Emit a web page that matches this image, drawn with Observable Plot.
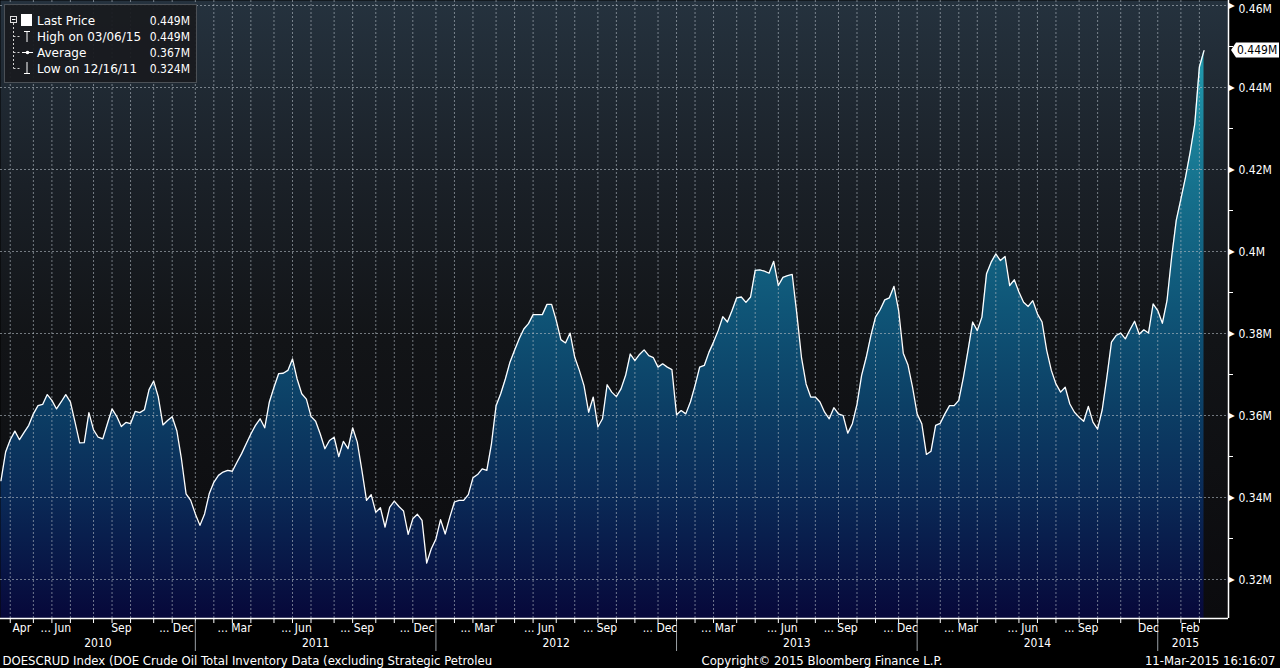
<!DOCTYPE html>
<html>
<head>
<meta charset="utf-8">
<script src="https://cdn.jsdelivr.net/npm/d3@7"></script>
<script src="https://cdn.jsdelivr.net/npm/@observablehq/plot@0.6"></script>
<style>
html, body { margin: 0; padding: 0; background: #000; }
#wrap { position: relative; width: 1280px; height: 668px; overflow: hidden; background: #000; }
#wrap svg.legend { position: absolute; left: 0; top: 0; }
</style>
</head>
<body>
<div id="wrap"></div>
<script>
// ---------------- data ----------------
const lastWeek = "2015-03-06";   // weekly observations, last one on 03/06/15
const values = [
  0.3441, 0.3511, 0.3541, 0.3562, 0.3541, 0.3559, 0.3576, 0.3604, 0.3624, 0.3627,
  0.3651, 0.3637, 0.3616, 0.3633, 0.3651, 0.3633, 0.3584, 0.3533, 0.3534, 0.3607,
  0.3565, 0.3547, 0.3543, 0.3580, 0.3616, 0.3598, 0.3573, 0.3583, 0.3580, 0.3610,
  0.3607, 0.3614, 0.3663, 0.3684, 0.3645, 0.3577, 0.3588, 0.3597, 0.3563, 0.3494,
  0.3409, 0.3393, 0.3360, 0.3332, 0.3360, 0.3409, 0.3437, 0.3454, 0.3462, 0.3466,
  0.3464, 0.3486, 0.3507, 0.3531, 0.3555, 0.3576, 0.3592, 0.3570, 0.3633, 0.3669,
  0.3702, 0.3703, 0.3710, 0.3738, 0.3689, 0.3653, 0.3640, 0.3598, 0.3586, 0.3555,
  0.3519, 0.3539, 0.3547, 0.3500, 0.3537, 0.3519, 0.3570, 0.3535, 0.3466, 0.3393,
  0.3407, 0.3364, 0.3375, 0.3328, 0.3376, 0.3391, 0.3378, 0.3367, 0.3310, 0.3348,
  0.3359, 0.3344, 0.3240, 0.3275, 0.3299, 0.3346, 0.3311, 0.3352, 0.3389, 0.3393,
  0.3393, 0.3407, 0.3448, 0.3456, 0.3470, 0.3466, 0.3531, 0.3624, 0.3653, 0.3689,
  0.3730, 0.3759, 0.3787, 0.3811, 0.3824, 0.3846, 0.3846, 0.3846, 0.3871, 0.3871,
  0.3832, 0.3785, 0.3777, 0.3801, 0.3742, 0.3710, 0.3673, 0.3608, 0.3645, 0.3572,
  0.3592, 0.3675, 0.3657, 0.3646, 0.3665, 0.3698, 0.3750, 0.3734, 0.3749, 0.3760,
  0.3746, 0.3741, 0.3718, 0.3726, 0.3718, 0.3712, 0.3602, 0.3612, 0.3604, 0.3633,
  0.3673, 0.3718, 0.3722, 0.3754, 0.3779, 0.3807, 0.3841, 0.3828, 0.3856, 0.3887,
  0.3889, 0.3876, 0.3889, 0.3954, 0.3955, 0.3952, 0.3947, 0.3976, 0.3917, 0.3937,
  0.3941, 0.3944, 0.3848, 0.3742, 0.3677, 0.3645, 0.3645, 0.3633, 0.3608, 0.3592,
  0.3619, 0.3604, 0.3600, 0.3557, 0.3580, 0.3627, 0.3698, 0.3742, 0.3795, 0.3840,
  0.3858, 0.3882, 0.3887, 0.3915, 0.3856, 0.3752, 0.3724, 0.3669, 0.3604, 0.3580,
  0.3505, 0.3513, 0.3576, 0.3581, 0.3604, 0.3624, 0.3624, 0.3637, 0.3693, 0.3759,
  0.3828, 0.3807, 0.3840, 0.3946, 0.3974, 0.3994, 0.3978, 0.3988, 0.3917, 0.3931,
  0.3901, 0.3876, 0.3866, 0.3880, 0.3848, 0.3828, 0.3759, 0.3710, 0.3677, 0.3657,
  0.3669, 0.3628, 0.3608, 0.3596, 0.3586, 0.3622, 0.3584, 0.3567, 0.3614, 0.3693,
  0.3779, 0.3795, 0.3801, 0.3787, 0.3809, 0.3830, 0.3798, 0.3809, 0.3801, 0.3872,
  0.3856, 0.3825, 0.3880, 0.3986, 0.4076, 0.4128, 0.4181, 0.4242, 0.4311, 0.4450,
  0.4490
];
const yTicks = [0.32, 0.34, 0.36, 0.38, 0.40, 0.42, 0.44, 0.46];
const yMinorTicks = [0.33, 0.35, 0.37, 0.39, 0.41, 0.43, 0.45];
const monthTicks = ["2010-04","2010-06","2010-09","2010-12",
                    "2011-03","2011-06","2011-09","2011-12",
                    "2012-03","2012-06","2012-09","2012-12",
                    "2013-03","2013-06","2013-09","2013-12",
                    "2014-03","2014-06","2014-09","2014-12",
                    "2015-02"];
const monthNames = ["Apr","Jun","Sep","Dec","Mar","Jun","Sep","Dec","Mar","Jun","Sep","Dec",
                    "Mar","Jun","Sep","Dec","Mar","Jun","Sep","Dec","Feb"];
const monthEllipsis = [false,true,false,true, true,true,true,true, true,true,true,true,
                       true,true,true,true, true,true,true,false, false];
const years = [2010, 2011, 2012, 2013, 2014, 2015];
const legendLabels = ["Last Price", "High on 03/06/15", "Average", "Low on 12/16/11"];
const legendValues = ["0.449M", "0.449M", "0.367M", "0.324M"];
const footerLeft = "DOESCRUD Index (DOE Crude Oil Total Inventory Data (excluding Strategic Petroleu";
const footerMid = "Copyright\u00A9 2015 Bloomberg Finance L.P.";
const footerRight = "11-Mar-2015 16:16:07";

// ---------------- derived ----------------
const DAY = 864e5;
const endDate = new Date(lastWeek + "T00:00:00Z");
const data = values.map((v, i) => ({date: new Date(+endDate - (values.length - 1 - i) * 7 * DAY), value: v}));

const W = 1280, H = 668, MR = 52, MB = 50;
const PW = W - MR, PH = H - MB;
const xStartDate = new Date(Date.UTC(2010, 2, 11, 6));
const xEndDate = new Date(Date.UTC(2015, 3, 12, 1));
const yMin = 0.310488, yMax = 0.46122;
const msPerPx = (xEndDate - xStartDate) / PW;
const unitPerPx = (yMax - yMin) / PH;
const pxX = p => new Date(+xStartDate + p * msPerPx);
const belowY = p => yMin - p * unitPerPx;

// month boundaries: last observation before each new month
const monthKey = d => d.getUTCFullYear() + "-" + String(d.getUTCMonth() + 1).padStart(2, "0");
const gridDates = [];
const gridByMonth = {};
for (let i = 0; i < data.length - 1; i++) {
  if (data[i].date.getUTCMonth() !== data[i + 1].date.getUTCMonth()) {
    gridDates.push(data[i].date);
    gridByMonth[monthKey(data[i + 1].date)] = data[i].date;
  }
}
const yearSeps = years.slice(1).map(y => gridByMonth[y + "-01"]);
const monthLabelData = monthTicks.map((m, i) => {
  const [yy, mm] = m.split("-").map(Number);
  const next = monthKey(new Date(Date.UTC(yy, mm, 1)));
  const a = gridByMonth[m], b = gridByMonth[next];
  return {date: new Date((+a + +b) / 2), name: monthNames[i], ell: monthEllipsis[i]};
});
const yearLabelData = years.map(y => {
  const a = gridByMonth[y + "-01"] || xStartDate;
  const b = gridByMonth[(y + 1) + "-01"] || new Date(+endDate + 14 * DAY);
  return {date: new Date((+a + +b) / 2), year: String(y)};
});
const fmtM = d => (+d.toFixed(2)) + "M";
const topTick = yTicks[yTicks.length - 1];

const CF = "'DejaVu Sans Condensed', 'DejaVu Sans', sans-serif";
const RF = "'DejaVu Sans', sans-serif";
const gridStyle = {stroke: "#b4bcc4", strokeOpacity: 0.6, strokeDasharray: "2,2", strokeWidth: 1};

const chart = Plot.plot({
  width: W, height: H,
  marginLeft: 0, marginRight: MR, marginTop: 0, marginBottom: MB,
  x: {type: "utc", domain: [xStartDate, xEndDate], axis: null},
  y: {domain: [yMin, yMax], axis: null},
  style: {background: "#000", color: "#fff", overflow: "visible", fontFamily: CF, fontSize: "12px"},
  marks: [
    Plot.frame({fill: "url(#bgGrad)", stroke: "none"}),
    Plot.areaY(data, {x: "date", y1: () => yMin, y2: "value", fill: "url(#fillGrad)"}),
    Plot.ruleY(yTicks, {y: d => d, ...gridStyle}),
    Plot.ruleX(gridDates, {x: d => d, ...gridStyle}),
    Plot.lineY(data, {x: "date", y: "value", stroke: "#ffffff", strokeWidth: 1.3}),
    // axis lines
    Plot.ruleX([xEndDate], {x: d => d, stroke: "#fff", strokeWidth: 1.5}),
    Plot.ruleY([yMin], {y: d => d, stroke: "#fff", strokeWidth: 1.5}),
    // right axis ticks
    Plot.ruleY(yMinorTicks, {y: d => d, x1: () => xEndDate, x2: () => pxX(PW + 5), stroke: "#fff"}),
    Plot.text(yTicks, {x: () => xEndDate, y: d => d, text: () => "\u25B6", fill: "#fff", fontSize: 8, textAnchor: "start", dx: 0, fontFamily: RF}),
    Plot.text(yTicks.filter(d => d !== topTick), {x: () => xEndDate, y: d => d, text: fmtM, fill: "#fff", fontSize: 12, textAnchor: "start", dx: 10, dy: 1, fontFamily: CF}),
    Plot.text([topTick], {x: () => xEndDate, y: d => d, text: fmtM, fill: "#fff", fontSize: 12, textAnchor: "start", dx: 10, dy: 4, fontFamily: CF}),
    // bottom axis ticks
    Plot.ruleX(gridDates, {x: d => d, y1: () => yMin, y2: () => belowY(5), stroke: "#fff"}),
    Plot.ruleX(yearSeps, {x: d => d, y1: () => belowY(3), y2: () => belowY(33), stroke: "#9aa0a6"}),
    Plot.text(monthLabelData.filter(d => !d.ell), {x: "date", y: () => belowY(10), text: "name", fill: "#fff", fontSize: 12, textAnchor: "middle", fontFamily: CF}),
    Plot.text(monthLabelData.filter(d => d.ell), {x: "date", y: () => belowY(10), text: d => "... " + d.name, fill: "#fff", fontSize: 12, textAnchor: "end", dx: 10, fontFamily: CF}),
    Plot.text(yearLabelData, {x: "date", y: () => belowY(25), text: "year", fill: "#fff", fontSize: 12, textAnchor: "middle", fontFamily: CF}),
    // footer
    Plot.text([footerLeft], {x: () => xStartDate, y: () => belowY(43), text: d => d, fill: "#fff", fontSize: 11.7, textAnchor: "start", dx: 2, fontFamily: RF}),
    Plot.text([footerMid], {x: () => pxX(701), y: () => belowY(43), text: d => d, fill: "#fff", fontSize: 11.7, textAnchor: "start", fontFamily: RF}),
    Plot.text([footerRight], {x: () => xEndDate, y: () => belowY(43), text: d => d, fill: "#fff", fontSize: 11.7, textAnchor: "end", dx: 47, fontFamily: RF})
  ]
});

// gradients
const NS = "http://www.w3.org/2000/svg";
function grad(id, stops) {
  const g = document.createElementNS(NS, "linearGradient");
  g.setAttribute("id", id);
  g.setAttribute("gradientUnits", "userSpaceOnUse");
  g.setAttribute("x1", 0); g.setAttribute("x2", 0);
  g.setAttribute("y1", 0); g.setAttribute("y2", PH);
  for (const [o, c] of stops) {
    const s = document.createElementNS(NS, "stop");
    s.setAttribute("offset", o); s.setAttribute("stop-color", c);
    g.appendChild(s);
  }
  return g;
}
const defs = document.createElementNS(NS, "defs");
defs.appendChild(grad("bgGrad", [[0, "#25323e"], [0.3, "#1a2027"], [0.55, "#121417"], [1, "#0b0b0e"]]));
defs.appendChild(grad("fillGrad", [[0, "#2aa8b8"], [0.12, "#2095aa"], [0.3, "#16718d"], [0.5, "#0f5577"], [0.65, "#0c4066"], [0.8, "#0a2a57"], [1, "#07083a"]]));
chart.insertBefore(defs, chart.firstChild);

// last price marker on right axis
const ys = chart.scale("y"), xs = chart.scale("x");
const ly = ys.apply(values[values.length - 1]);
const lx = xs.apply(xEndDate);
const tag = document.createElementNS(NS, "path");
tag.setAttribute("d", `M${lx + 3},${ly} L${lx + 8},${ly - 7.5} L${W - 1},${ly - 7.5} L${W - 1},${ly + 7.5} L${lx + 8},${ly + 7.5} Z`);
tag.setAttribute("fill", "#fff");
chart.appendChild(tag);
const tagText = document.createElementNS(NS, "text");
tagText.setAttribute("x", lx + 9);
tagText.setAttribute("y", ly);
tagText.setAttribute("dy", "0.35em");
tagText.setAttribute("fill", "#000");
tagText.setAttribute("text-anchor", "start");
tagText.setAttribute("font-size", "12");
tagText.setAttribute("font-family", CF);
tagText.textContent = legendValues[0];
chart.appendChild(tagText);

document.getElementById("wrap").appendChild(chart);

// legend box
const lg = document.createElementNS(NS, "svg");
lg.setAttribute("class", "legend");
lg.setAttribute("width", 200); lg.setAttribute("height", 86);
const add = (tagName, attrs, text) => {
  const el = document.createElementNS(NS, tagName);
  for (const k in attrs) el.setAttribute(k, attrs[k]);
  if (text != null) el.textContent = text;
  lg.appendChild(el);
  return el;
};
add("rect", {x: 4.5, y: 4.5, width: 192, height: 78, fill: "#181b1f", "fill-opacity": 0.94, stroke: "#4b5056"});
const rowY = [20.5, 36.5, 52.5, 68.5];
// tree connector
add("line", {x1: 13.5, x2: 13.5, y1: 23, y2: 68.5, stroke: "#d0d0d0", "stroke-dasharray": "2,2"});
rowY.slice(1).forEach(y => add("line", {x1: 13.5, x2: 21, y1: y, y2: y, stroke: "#d0d0d0", "stroke-dasharray": "2,2"}));
// collapse box
add("rect", {x: 10.5, y: 16.5, width: 6, height: 6, fill: "none", stroke: "#e0e0e0"});
add("line", {x1: 12, x2: 15.5, y1: 19.5, y2: 19.5, stroke: "#fff"});
// last price swatch
add("rect", {x: 21, y: 14, width: 11, height: 12, fill: "#fff"});
// high glyph
add("line", {x1: 24, x2: 30, y1: 31.5, y2: 31.5, stroke: "#fff"});
add("line", {x1: 27, x2: 27, y1: 31.5, y2: 42, stroke: "#fff"});
// average glyph
add("line", {x1: 22, x2: 33, y1: 52.5, y2: 52.5, stroke: "#fff"});
add("circle", {cx: 27.5, cy: 52.5, r: 1.8, fill: "#fff"});
// low glyph
add("line", {x1: 27, x2: 27, y1: 62, y2: 73.5, stroke: "#fff"});
add("line", {x1: 24, x2: 30, y1: 73.5, y2: 73.5, stroke: "#fff"});
legendLabels.forEach((t, i) => add("text", {x: 37, y: rowY[i], dy: "0.36em", fill: "#fff", "font-size": 12, "font-family": RF}, t));
legendValues.forEach((t, i) => add("text", {x: 190, y: rowY[i], dy: "0.36em", fill: "#fff", "font-size": 12, "text-anchor": "end", "font-family": CF}, t));
document.getElementById("wrap").appendChild(lg);
</script>
</body>
</html>
